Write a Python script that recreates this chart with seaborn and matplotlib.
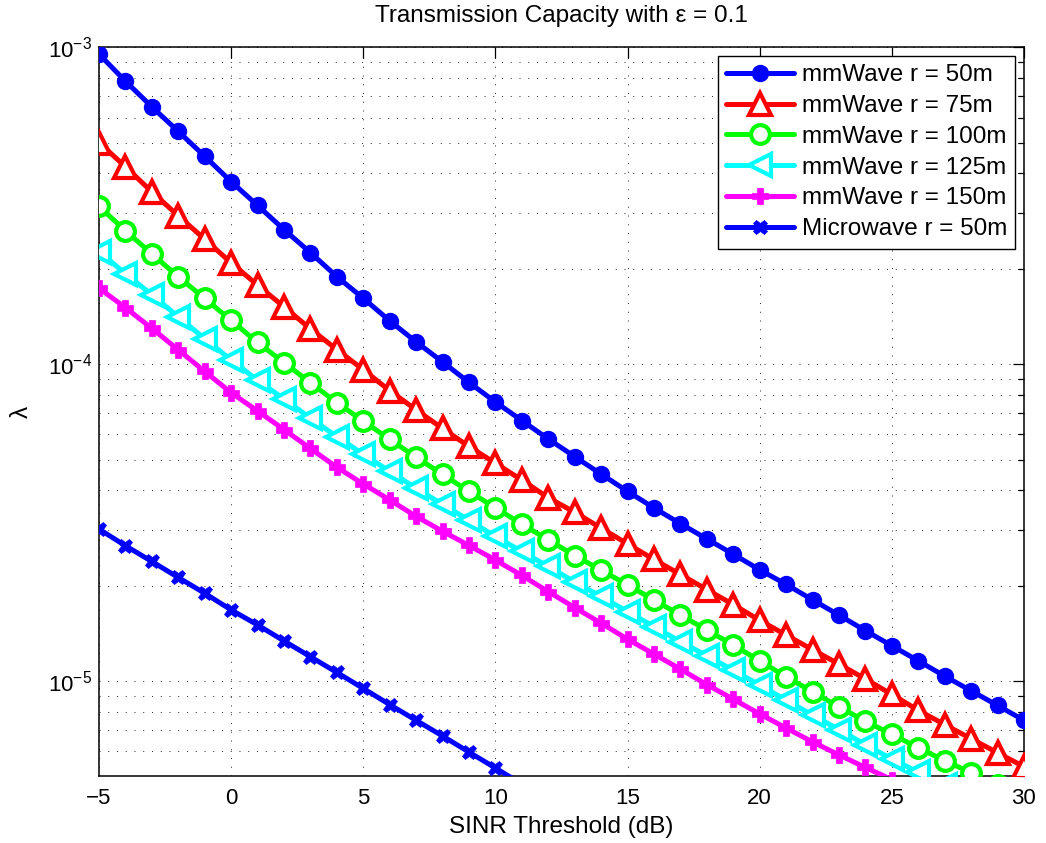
import numpy as np
import pandas as pd
import matplotlib
matplotlib.use("Agg")
import matplotlib.pyplot as plt
import matplotlib.ticker as mticker
import seaborn as sns

# SINR threshold in dB (x axis)
sinr_db = list(range(-5, 31))

# lambda values, one list per curve
mmwave_50 = [9.52e-4, 7.82e-4, 6.49e-4, 5.43e-4, 4.53e-4, 3.77e-4, 3.17e-4, 2.66e-4, 2.25e-4, 1.89e-4,
             1.615e-4, 1.371e-4, 1.176e-4, 1.017e-4, 8.76e-5, 7.60e-5, 6.64e-5, 5.81e-5, 5.11e-5, 4.50e-5,
             3.97e-5, 3.52e-5, 3.14e-5, 2.81e-5, 2.515e-5, 2.245e-5, 2.02e-5, 1.805e-5, 1.615e-5, 1.443e-5,
             1.293e-5, 1.159e-5, 1.037e-5, 9.32e-6, 8.38e-6, 7.52e-6]
mmwave_75 = [5.005e-4, 4.20e-4, 3.50e-4, 2.94e-4, 2.48e-4, 2.09e-4, 1.776e-4, 1.518e-4, 1.293e-4, 1.112e-4,
             9.61e-5, 8.25e-5, 7.18e-5, 6.27e-5, 5.50e-5, 4.87e-5, 4.31e-5, 3.79e-5, 3.41e-5, 3.04e-5,
             2.71e-5, 2.42e-5, 2.17e-5, 1.945e-5, 1.744e-5, 1.555e-5, 1.398e-5, 1.256e-5, 1.132e-5, 1.015e-5,
             9.08e-6, 8.09e-6, 7.29e-6, 6.58e-6, 5.94e-6, 5.37e-6]
mmwave_100 = [3.146e-4, 2.64e-4, 2.229e-4, 1.889e-4, 1.613e-4, 1.376e-4, 1.171e-4, 1.012e-4, 8.74e-5, 7.56e-5,
              6.62e-5, 5.79e-5, 5.09e-5, 4.49e-5, 3.97e-5, 3.52e-5, 3.13e-5, 2.79e-5, 2.49e-5, 2.24e-5,
              2.012e-5, 1.803e-5, 1.616e-5, 1.449e-5, 1.30e-5, 1.159e-5, 1.032e-5, 9.25e-6, 8.29e-6, 7.47e-6,
              6.80e-6, 6.16e-6, 5.61e-6, 5.14e-6, 4.70e-6, 4.30e-6]
mmwave_125 = [2.266e-4, 1.931e-4, 1.657e-4, 1.411e-4, 1.203e-4, 1.032e-4, 8.89e-5, 7.77e-5, 6.76e-5, 5.91e-5,
              5.20e-5, 4.59e-5, 4.06e-5, 3.61e-5, 3.22e-5, 2.86e-5, 2.565e-5, 2.30e-5, 2.055e-5, 1.849e-5,
              1.657e-5, 1.486e-5, 1.332e-5, 1.202e-5, 1.082e-5, 9.71e-6, 8.71e-6, 7.81e-6, 7.03e-6, 6.30e-6,
              5.68e-6, 5.16e-6, 4.69e-6, 4.27e-6, 3.90e-6, 3.55e-6]
mmwave_150 = [1.738e-4, 1.508e-4, 1.298e-4, 1.110e-4, 9.49e-5, 8.13e-5, 7.12e-5, 6.22e-5, 5.42e-5, 4.73e-5,
              4.19e-5, 3.73e-5, 3.31e-5, 2.97e-5, 2.68e-5, 2.41e-5, 2.155e-5, 1.916e-5, 1.706e-5, 1.524e-5,
              1.356e-5, 1.217e-5, 1.091e-5, 9.75e-6, 8.77e-6, 7.88e-6, 7.11e-6, 6.43e-6, 5.85e-6, 5.34e-6,
              4.89e-6, 4.46e-6, 4.10e-6, 3.75e-6, 3.45e-6, 3.15e-6]
microwave_50 = [3.018e-5, 2.674e-5, 2.385e-5, 2.123e-5, 1.893e-5, 1.678e-5, 1.504e-5, 1.339e-5, 1.194e-5,
                1.065e-5, 9.48e-6, 8.43e-6, 7.52e-6, 6.71e-6, 5.97e-6, 5.32e-6, 4.73e-6, 4.22e-6]

labels = ["mmWave r = 50m", "mmWave r = 75m", "mmWave r = 100m",
          "mmWave r = 125m", "mmWave r = 150m", "Microwave r = 50m"]

sns.set_style("white")
plt.rcParams["font.family"] = ["Liberation Sans", "DejaVu Sans"]
plt.rcParams["mathtext.default"] = "regular"
for key in ["text.color", "axes.labelcolor", "xtick.color", "ytick.color"]:
    plt.rcParams[key] = "k"

fig = plt.figure(figsize=(10.46, 8.43), dpi=100)
ax = fig.add_axes([0.0946, 0.0789, 0.8843, 0.865])

# (values, colour, marker, marker size, face colour, edge width)
curves = [
    (mmwave_50, (0, 0, 1), "o", 11.5, (0, 0, 1), 1.0),
    (mmwave_75, (1, 0, 0), "^", 16, "white", 3.0),
    (mmwave_100, (0, 1, 0), "o", 13.5, "white", 3.0),
    (mmwave_125, (0, 1, 1), "<", 16, "white", 3.0),
    (mmwave_150, (1, 0, 1), "P", 11, (1, 0, 1), 0.5),
    (microwave_50, (0, 0, 1), "X", 10.5, (0, 0, 1), 0.5),
]

for i, (vals, col, mk, ms, fc, mew) in enumerate(curves):
    df = pd.DataFrame({"sinr": sinr_db[:len(vals)], "lam": vals})
    sns.lineplot(data=df, x="sinr", y="lam", ax=ax, color=col, marker=mk,
                 markersize=ms, markerfacecolor=fc, markeredgecolor=col,
                 markeredgewidth=mew, linewidth=3.6, label=labels[i], zorder=3 + i)

ax.set_yscale("log")
ax.set_xlim(-5, 30)
ax.set_ylim(5e-6, 1e-3)
ax.set_xticks([-5, 0, 5, 10, 15, 20, 25, 30])
ax.yaxis.set_major_locator(mticker.LogLocator(base=10))
ax.yaxis.set_minor_locator(mticker.LogLocator(base=10, subs=np.arange(2, 10)))
ax.yaxis.set_minor_formatter(mticker.NullFormatter())

ax.grid(True, which="major", axis="both", linestyle=(0, (1, 8)), color="#222222", linewidth=0.7)
ax.grid(True, which="minor", axis="y", linestyle=(0, (1, 8)), color="#222222", linewidth=0.7)
ax.set_axisbelow(True)

ax.tick_params(which="both", direction="in", top=True, right=True, labelsize=16)
ax.tick_params(axis="x", which="major", pad=8)
ax.tick_params(axis="y", which="major", pad=5)
ax.tick_params(which="major", length=8, width=0.9)
ax.tick_params(which="minor", length=4, width=0.9)
for sp in ax.spines.values():
    sp.set_color("k")
    sp.set_linewidth(1.1)

ax.set_title("Transmission Capacity with ε = 0.1", fontsize=17.5, pad=18)
ax.set_xlabel("SINR Threshold (dB)", fontsize=17.5, labelpad=5)
ax.set_ylabel("λ", fontsize=17.5, labelpad=11)

leg = ax.legend(loc="upper right", fontsize=17.5, handlelength=2.8, numpoints=1,
                fancybox=False, edgecolor="k", framealpha=1, borderaxespad=0.35,
                labelspacing=0.36, handletextpad=0.3, borderpad=0.35)
leg.get_frame().set_linewidth(1.0)

fig.savefig("out.png", dpi=100)
